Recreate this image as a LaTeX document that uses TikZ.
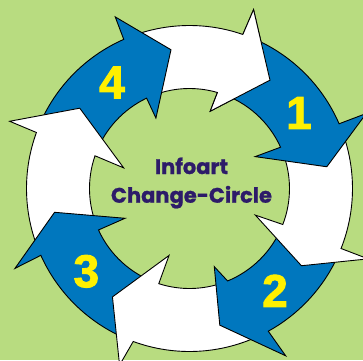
\documentclass[tikz,border=0pt]{standalone}
\usepackage{fontspec}
\newfontfamily\titlefont{Poppins}[BoldFeatures={FakeBold=1}]
\newfontfamily\digitfont{Liberation Sans}[BoldFeatures={FakeBold=2}]
\definecolor{ringBlue}{RGB}{0,119,190}
\definecolor{ringGreen}{RGB}{184,220,128}
\definecolor{digitYellow}{RGB}{255,240,0}
\definecolor{titleInk}{RGB}{45,27,105}
\tikzset{
	ringpart/.style={draw=black,line width=0.9pt,line join=miter},
	blueseg/.style={ringpart,fill=ringBlue},
	whiteseg/.style={ringpart,fill=white},
	digit/.style={font=\digitfont\bfseries\fontsize{46}{46}\selectfont,text=digitYellow,inner sep=0pt},
	titletext/.style={font=\titlefont\bfseries\fontsize{21}{21}\selectfont,text=titleInk,inner sep=0pt}
}

\begin{document}
\begin{tikzpicture}[x=1pt,y=1pt]
		\useasboundingbox (-189.5,-171.5) rectangle (173.5,188.5);
		\clip (-189.5,-171.5) rectangle (173.5,188.5);
		% background
		\fill[ringGreen] (-189.5,-171.5) rectangle (173.5,188.5);
		% arrows, last one first so each head lies on the next tail
		\draw[whiteseg] (-248.7:163) arc[start angle=-248.7,end angle=-289.1,radius=163] -- (-289.7:190) -- (-306.6:135) -- (-285:80) -- (-286.2:100) arc[start angle=-286.2,end angle=-246.6,radius=100] -- cycle;
		\draw[blueseg] (-202.6:163) arc[start angle=-202.6,end angle=-246.2,radius=163] -- (-246.6:187) -- (-262.4:140) -- (-244.5:78) -- (-244.6:100) arc[start angle=-244.6,end angle=-201.1,radius=100] -- cycle;
		\draw[whiteseg] (-158.3:163) arc[start angle=-158.3,end angle=-200.1,radius=163] -- (-200.5:192) -- (-216.2:136) -- (-197.4:69) -- (-199.1:100) arc[start angle=-199.1,end angle=-157.5,radius=100] -- cycle;
		\draw[blueseg] (-112.7:163) arc[start angle=-112.7,end angle=-155.8,radius=163] -- (-155.4:192) -- (-170:137) -- (-155.2:71) -- (-155.5:100) arc[start angle=-155.5,end angle=-109.9,radius=100] -- cycle;
		\draw[whiteseg] (-63.6:163) arc[start angle=-63.6,end angle=-110.2,radius=163] -- (-111.6:190) -- (-125.4:133) -- (-107:70) -- (-107.9:100) arc[start angle=-107.9,end angle=-69.6,radius=100] -- cycle;
		\draw[blueseg] (-24.1:163) arc[start angle=-24.1,end angle=-61.1,radius=163] -- (-60.1:193) -- (-77.5:140) -- (-72.4:82) -- (-67.6:100) arc[start angle=-67.6,end angle=-23.1,radius=100] -- cycle;
		\draw[whiteseg] (20.9:163) arc[start angle=20.9,end angle=-21.6,radius=163] -- (-21.5:192) -- (-34.6:136) -- (-22:71) -- (-21.1:100) arc[start angle=-21.1,end angle=22.4,radius=100] -- cycle;
		\draw[blueseg] (68.4:163) arc[start angle=68.4,end angle=23.4,radius=163] -- (23:192) -- (9:139) -- (25.9:73) -- (24.4:100) arc[start angle=24.4,end angle=71.8,radius=100] -- cycle;
		% head of the top arrow once more
		\fill[white] (-289.7:190) -- (-306.6:135) -- (-285:80) -- cycle;
		\draw[ringpart] (-289.1:163) -- (-289.7:190) -- (-306.6:135) -- (-285:80) -- (-286.2:100);
		% numbers
		\node[digit] (one) at (109.5,75.5) {1};
		\node[digit] (two) at (85.5,-102.3) {2};
		\node[digit] (three) at (-103.2,-82.8) {3};
		\node[digit] (four) at (-77.5,106) {4};
		% title
		\node[titletext,anchor=base] (infoart) at (2,14.5) {Infoart};
		\node[titletext,anchor=base] (change) at (2,-14.2) {Change-Circle};
\end{tikzpicture}
\end{document}
